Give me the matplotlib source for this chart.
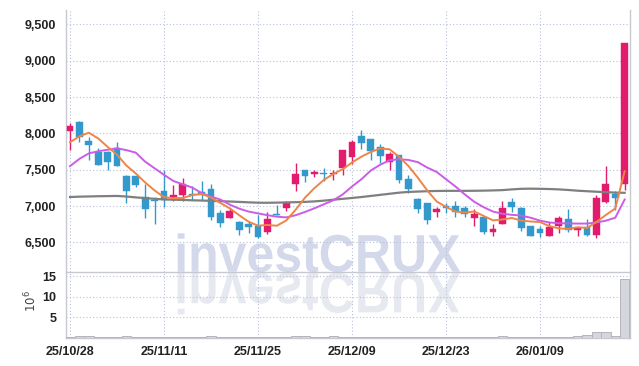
import numpy as np
import matplotlib
matplotlib.use("Agg")
import matplotlib.pyplot as plt
from matplotlib.textpath import TextPath
from matplotlib.patches import PathPatch
from matplotlib.font_manager import FontProperties
from matplotlib.transforms import Affine2D

plt.rcParams['font.family'] = ['Liberation Sans', 'DejaVu Sans']

# --- data (KRW, daily) ---
opens = [8030, 8160, 7890, 7750, 7750, 7800, 7410, 7410, 7130, 7080,
         7210, 7120, 7150, 7170, 7200, 7240, 6900, 6840, 6780, 6750,
         6730, 6640, 6890, 6980, 7300, 7500, 7440, 7460, 7440, 7530,
         7670, 7960, 7920, 7810, 7600, 7700, 7370, 7100, 7040, 6920,
         7000, 7000, 6970, 6840, 6850, 6650, 6750, 7050, 6970, 6730,
         6680, 6590, 6730, 6820, 6670, 6710, 6600, 7050, 7160, 7300]
highs = [8140, 8170, 7950, 7800, 7760, 7880, 7430, 7420, 7300, 7120,
         7500, 7290, 7390, 7280, 7350, 7300, 6940, 6970, 6800, 6800,
         6880, 6920, 7010, 7070, 7590, 7500, 7500, 7520, 7500, 7770,
         7910, 8040, 7920, 7850, 7740, 7700, 7430, 7110, 7040, 6990,
         7040, 7070, 7000, 6960, 6860, 6760, 7070, 7110, 6990, 6730,
         6730, 6780, 6860, 6960, 6700, 6820, 7150, 7550, 7210, 9240]
lows = [7770, 7880, 7630, 7560, 7500, 7550, 7040, 7260, 6830, 6750,
        6990, 7070, 7070, 7090, 7080, 6810, 6710, 6840, 6600, 6630,
        6560, 6610, 6880, 6930, 7210, 7330, 7400, 7340, 7360, 7430,
        7580, 7790, 7630, 7590, 7500, 7320, 7180, 6910, 6760, 6850,
        6900, 6850, 6850, 6720, 6620, 6590, 6750, 6920, 6660, 6590,
        6580, 6590, 6630, 6650, 6590, 6590, 6560, 7040, 6950, 7220]
closes = [8100, 7950, 7840, 7570, 7610, 7550, 7210, 7290, 6960, 7070,
          7090, 7150, 7300, 7150, 7150, 6850, 6770, 6930, 6670, 6710,
          6580, 6820, 6880, 7040, 7440, 7420, 7470, 7440, 7450, 7770,
          7880, 7870, 7760, 7690, 7710, 7360, 7240, 6960, 6810, 6960,
          6980, 6920, 6890, 6890, 6650, 6680, 6980, 6990, 6700, 6590,
          6630, 6710, 6830, 6670, 6700, 6600, 7110, 7310, 7110, 9240]
volume_m = [0.3, 0.6, 0.5, 0.3, 0.3, 0.3, 0.6, 0.3, 0.3, 0.3,
            0.3, 0.3, 0.3, 0.3, 0.3, 0.5, 0.3, 0.3, 0.3, 0.3,
            0.3, 0.3, 0.3, 0.3, 0.6, 0.4, 0.3, 0.3, 0.4, 0.3,
            0.3, 0.3, 0.3, 0.3, 0.3, 0.3, 0.3, 0.3, 0.3, 0.3,
            0.3, 0.3, 0.3, 0.3, 0.3, 0.3, 0.6, 0.3, 0.3, 0.3,
            0.3, 0.3, 0.3, 0.3, 0.4, 0.8, 1.5, 1.5, 0.6, 14.4]
ma5 = [7880, 7960, 8010, 7930, 7815, 7706, 7558, 7448, 7324, 7215,
       7123, 7110, 7112, 7151, 7168, 7118, 7043, 6969, 6874, 6785,
       6731, 6741, 6730, 6803, 6950, 7117, 7248, 7360, 7442, 7508,
       7600, 7680, 7745, 7793, 7781, 7678, 7552, 7391, 7215, 7064,
       6989, 6925, 6911, 6927, 6865, 6804, 6816, 6837, 6800, 6789,
       6780, 6725, 6693, 6687, 6709, 6700, 6782, 6878, 6967, 7480]
ma20 = [7550, 7650, 7725, 7755, 7775, 7795, 7770, 7735, 7610, 7520,
        7430, 7345, 7300, 7255, 7180, 7130, 7090, 7020, 6965, 6925,
        6900, 6875, 6855, 6845, 6875, 6920, 6970, 7025, 7080, 7160,
        7270, 7370, 7490, 7570, 7630, 7645, 7635, 7605, 7530, 7470,
        7370, 7270, 7160, 7060, 6985, 6925, 6895, 6880, 6870, 6840,
        6800, 6775, 6765, 6762, 6760, 6760, 6775, 6800, 6840, 7090]
ma60 = [7125, 7130, 7133, 7136, 7138, 7140, 7132, 7120, 7110, 7100,
        7092, 7088, 7085, 7080, 7077, 7072, 7068, 7063, 7058, 7052,
        7047, 7046, 7048, 7051, 7054, 7058, 7065, 7075, 7088, 7100,
        7112, 7125, 7140, 7155, 7170, 7185, 7195, 7200, 7205, 7208,
        7210, 7210, 7210, 7211, 7213, 7216, 7220, 7230, 7238, 7240,
        7238, 7235, 7230, 7222, 7212, 7205, 7198, 7192, 7186, 7183]
tick_idx = [0, 10, 20, 30, 40, 50]
tick_labels = ['25/10/28', '25/11/11', '25/11/25', '25/12/09', '25/12/23', '26/01/09']
price_ticks = [6500, 7000, 7500, 8000, 8500, 9000, 9500]
vol_ticks = [5, 10, 15]

UP = '#e31b6d'
DOWN = '#3399cc'
GRID = '#b9c1da'
SPINE = '#c8c8d0'
label_font = FontProperties(family=['Liberation Sans', 'DejaVu Sans'],
                            weight='bold', size=9)

W, H = 639, 366
fig = plt.figure(figsize=(W / 100, H / 100), dpi=100)
fig.patch.set_facecolor('white')
ax = fig.add_axes([66 / W, (H - 272) / H, 564 / W, 262 / H])
axv = fig.add_axes([66 / W, (H - 338) / H, 564 / W, 66 / H], sharex=ax)
for a in (ax, axv):
    a.set_facecolor('none')
    a.spines['top'].set_visible(False)
    for s in ('left', 'right', 'bottom'):
        a.spines[s].set_color(SPINE)
        a.spines[s].set_linewidth(1.0)
    a.grid(True, color=GRID, linestyle=(0, (1, 2)), linewidth=0.8)
    a.set_axisbelow(True)
    a.tick_params(length=0, labelcolor='#222222', pad=7)

x = np.arange(len(closes))
o = np.array(opens)
c = np.array(closes)
colors = [UP if cc >= oo else DOWN for oo, cc in zip(o, c)]

# wicks and bodies
ax.vlines(x, lows, highs, colors=colors, linewidth=1.0, zorder=3)
body_bottom = np.minimum(o, c)
body_height = np.maximum(np.abs(c - o), 18)
ax.bar(x, body_height, bottom=body_bottom, width=0.72, color=colors,
       edgecolor=colors, linewidth=0.3, zorder=4)

ax.plot(x, ma60, color='#7f7f7f', linewidth=1.6, zorder=5)
ax.plot(x, ma20, color='#cc5ce8', linewidth=1.4, zorder=5)
ax.plot(x, ma5, color='#ee8547', linewidth=1.4, zorder=5)

ax.set_xlim(-0.43, 59.57)
ax.set_ylim(6094, 9697)
ax.set_yticks(price_ticks)
ax.set_yticklabels([f'{v:,}' for v in price_ticks], fontproperties=label_font)
ax.set_xticks(tick_idx)
ax.tick_params(axis='x', labelbottom=False)

axv.bar(x, volume_m, width=1.0, color='#d5d5dc', edgecolor='#b4b4bc', linewidth=0.7, zorder=3)
axv.set_ylim(0, 16)
axv.set_yticks(vol_ticks)
axv.set_yticklabels([str(v) for v in vol_ticks], fontproperties=label_font)
axv.set_xticks(tick_idx)
axv.set_xticklabels(tick_labels, fontproperties=label_font)
axv.tick_params(axis='x', pad=6)
fig.text(31 / W, 1 - 301 / H, r'$10^{6}$', rotation=90, ha='center', va='center',
         fontsize=8.5, color='#444444', family='DejaVu Sans')

# watermark with reflection
tp = TextPath((0, 0), 'investCRUX', size=100,
              prop=FontProperties(family='Liberation Sans', weight='bold'))
ext = tp.get_extents()
sx = (460 - 177.7) / ext.width
sy = (271.7 - 233.3) / ext.y1
to_fig = Affine2D().scale(1 / W, 1 / H) + fig.transFigure
t_up = Affine2D().translate(-ext.x0, 0).scale(sx, sy).translate(177.7, H - 271.7) + to_fig
t_dn = Affine2D().translate(-ext.x0, 0).scale(sx, -sy * 1.08).translate(177.7, H - 273.0) + to_fig
fig.add_artist(PathPatch(tp, facecolor='#d3d8ea', edgecolor='none', transform=t_up, zorder=-1))
fig.add_artist(PathPatch(tp, facecolor='#e7e9f1', edgecolor='none', transform=t_dn, zorder=-1))

fig.savefig('out.png', dpi=100)
